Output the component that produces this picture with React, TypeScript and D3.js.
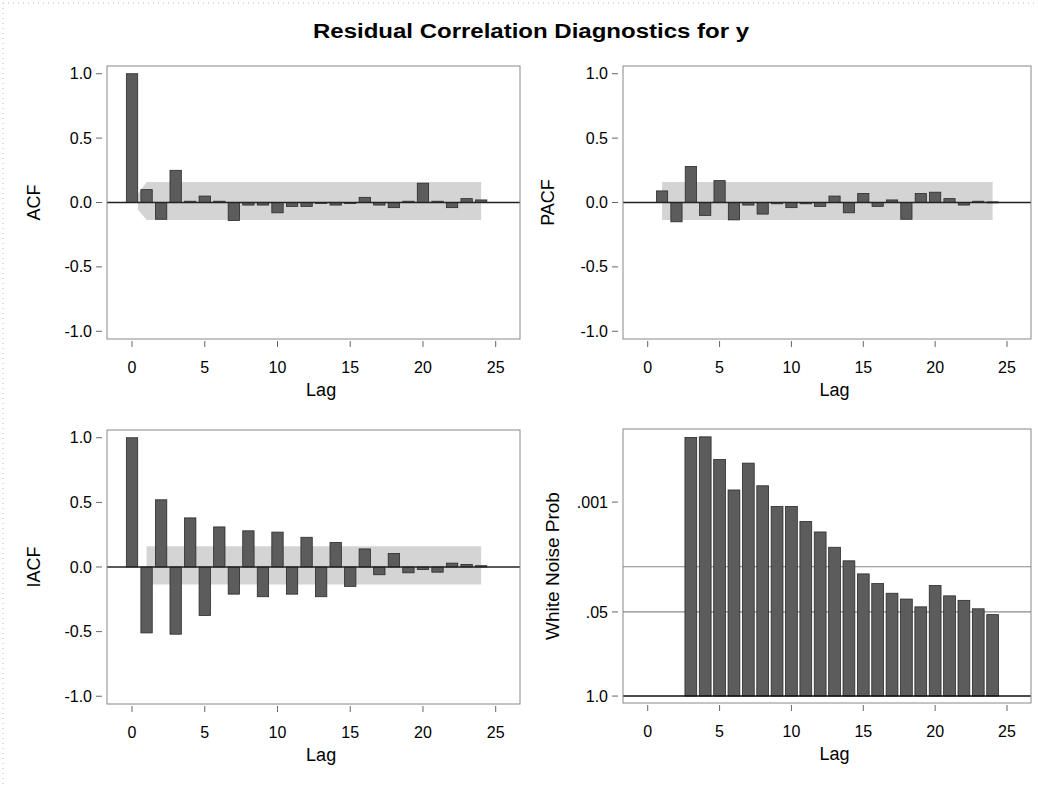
import * as d3 from 'd3';

// lags 0..24
const lags = d3.range(0, 25);

const acfValues = [
  1.0, 0.1, -0.13, 0.25, 0.01, 0.05, 0.01, -0.14, -0.02, -0.02, -0.08, -0.03,
  -0.03, 0.0, -0.02, 0.0, 0.04, -0.02, -0.04, 0.01, 0.15, 0.01, -0.04, 0.03, 0.02,
];

// PACF has no lag 0
const pacfValues = [
  null, 0.09, -0.15, 0.28, -0.1, 0.17, -0.135, -0.02, -0.09, -0.01, -0.04, -0.01,
  -0.03, 0.05, -0.08, 0.07, -0.03, 0.02, -0.13, 0.07, 0.08, 0.03, -0.02, 0.01, 0.005,
];

const iacfValues = [
  1.0, -0.51, 0.52, -0.52, 0.38, -0.375, 0.31, -0.21, 0.28, -0.23, 0.27, -0.21,
  0.23, -0.23, 0.19, -0.15, 0.14, -0.06, 0.105, -0.045, -0.02, -0.04, 0.03, 0.02, 0.01,
];

// white noise test probabilities, lags 3..24
const wnLags = d3.range(3, 25);
const wnProb = [
  0.0001, 0.000098, 0.00022, 0.00065, 0.00025, 0.00056, 0.00117, 0.00117, 0.002,
  0.0029, 0.005, 0.0081, 0.0129, 0.0182, 0.0257, 0.0316, 0.0417, 0.0195, 0.0282,
  0.0331, 0.0447, 0.055,
];

// two standard error band
const bandUpper = 0.16;
const bandLower = -0.135;

const yTicks = [-1, -0.5, 0, 0.5, 1];
const xTicks = [0, 5, 10, 15, 20, 25];
const wnTicks = [1, 0.05, 0.001];
const wnRefLines = [0.05, 0.01];

const font = "'Liberation Sans', Arial, sans-serif";

type Frame = { x0: number; x1: number; y0: number; y1: number };

function XAxis({ f, x }: { f: Frame; x: d3.ScaleLinear<number, number> }) {
  return (
    <g>
      {xTicks.map((t) => (
        <g key={t}>
          <line x1={x(t)} x2={x(t)} y1={f.y1 + 2} y2={f.y1 + 8} stroke="#666" />
          <text x={x(t)} y={f.y1 + 34} textAnchor="middle" fontSize={16}>
            {t}
          </text>
        </g>
      ))}
      <text x={x(13)} y={f.y1 + 57} textAnchor="middle" fontSize={18}>
        Lag
      </text>
    </g>
  );
}

function CorrPanel({
  f,
  values,
  label,
  labelX,
  bandStart,
}: {
  f: Frame;
  values: (number | null)[];
  label: string;
  labelX: number;
  bandStart: number;
}) {
  const x = d3.scaleLinear().domain([-1.72, 26.67]).range([f.x0, f.x1]);
  const y = d3.scaleLinear().domain([-1.06, 1.06]).range([f.y1, f.y0]);
  const bw = x(0.78) - x(0);
  const bandLags = d3.range(1, 25);
  const area = d3
    .area<number>()
    .x((d) => x(d))
    .y0((d) => y(d < 1 ? bandLower * d : bandLower))
    .y1((d) => y(d < 1 ? bandUpper * d : bandUpper));
  const bandPts = bandStart === 0 ? [0.4, ...bandLags] : bandLags;
  return (
    <g>
      <path d={area(bandPts) || ''} fill="#d4d4d4" />
      {lags.map((l) => {
        const v = values[l];
        if (v === null || v === undefined) return null;
        return (
          <rect
            key={l}
            x={x(l) - bw / 2}
            width={bw}
            y={y(Math.max(0, v))}
            height={Math.max(1, Math.abs(y(v) - y(0)))}
            fill="#5c5c5c"
            stroke="#2a2a2a"
            strokeWidth={0.8}
          />
        );
      })}
      <line x1={f.x0} x2={f.x1} y1={y(0)} y2={y(0)} stroke="#222" strokeWidth={1.4} />
      <rect x={f.x0} y={f.y0} width={f.x1 - f.x0} height={f.y1 - f.y0} fill="none" stroke="#888" />
      {yTicks.map((t) => (
        <g key={t}>
          <line x1={f.x0 - 11} x2={f.x0 - 5} y1={y(t)} y2={y(t)} stroke="#666" />
          <text x={f.x0 - 15} y={y(t)} dy="0.35em" textAnchor="end" fontSize={16}>
            {t.toFixed(1)}
          </text>
        </g>
      ))}
      <text
        transform={`translate(${labelX},${(f.y0 + f.y1) / 2}) rotate(-90)`}
        textAnchor="middle"
        fontSize={18}
      >
        {label}
      </text>
      <XAxis f={f} x={x} />
    </g>
  );
}

function WhiteNoisePanel({ f }: { f: Frame }) {
  const x = d3.scaleLinear().domain([-1.72, 26.67]).range([f.x0, f.x1]);
  const y = d3.scaleLog().domain([1.28, Math.pow(10, -4.13)]).range([f.y1, f.y0]);
  const bw = x(0.82) - x(0);
  return (
    <g>
      {wnRefLines.map((r) => (
        <line key={r} x1={f.x0} x2={f.x1} y1={y(r)} y2={y(r)} stroke="#888" strokeWidth={1.2} />
      ))}
      {wnLags.map((l, i) => (
        <rect
          key={l}
          x={x(l) - bw / 2}
          width={bw}
          y={y(wnProb[i])}
          height={y(1) - y(wnProb[i])}
          fill="#5c5c5c"
          stroke="#2a2a2a"
          strokeWidth={0.8}
        />
      ))}
      <line x1={f.x0} x2={f.x1} y1={y(1)} y2={y(1)} stroke="#111" strokeWidth={1.6} />
      <rect x={f.x0} y={f.y0} width={f.x1 - f.x0} height={f.y1 - f.y0} fill="none" stroke="#888" />
      {wnTicks.map((t) => (
        <g key={t}>
          <line x1={f.x0 - 11} x2={f.x0 - 5} y1={y(t)} y2={y(t)} stroke="#666" />
          <text x={f.x0 - 15} y={y(t)} dy="0.35em" textAnchor="end" fontSize={16}>
            {t === 1 ? '1.0' : String(t).replace(/^0/, '')}
          </text>
        </g>
      ))}
      <text
        transform={`translate(559,${(f.y0 + f.y1) / 2}) rotate(-90)`}
        textAnchor="middle"
        fontSize={19}
      >
        White Noise Prob
      </text>
      <XAxis f={f} x={x} />
    </g>
  );
}

export default function App() {
  const width = 1038;
  const height = 788;
  return (
    <svg
      width={width}
      height={height}
      style={{ position: 'absolute', left: 0, top: 0, background: '#fff' }}
      fontFamily={font}
    >
      <line x1={3} x2={width} y1={3} y2={3} stroke="#bbb" strokeDasharray="1,4" />
      <line x1={3} x2={3} y1={3} y2={height} stroke="#bbb" strokeDasharray="1,4" />
      <text x={531} y={38} textAnchor="middle" fontSize={20} fontWeight="bold" textLength={436} lengthAdjust="spacingAndGlyphs">
        Residual Correlation Diagnostics for y
      </text>
      <CorrPanel f={{ x0: 107, x1: 520, y0: 66, y1: 339 }} values={acfValues} label="ACF" labelX={40} bandStart={0} />
      <CorrPanel f={{ x0: 623, x1: 1031, y0: 66, y1: 339 }} values={pacfValues} label="PACF" labelX={554} bandStart={1} />
      <CorrPanel f={{ x0: 107, x1: 520, y0: 430, y1: 704 }} values={iacfValues} label="IACF" labelX={40} bandStart={1} />
      <WhiteNoisePanel f={{ x0: 623, x1: 1031, y0: 429, y1: 703 }} />
    </svg>
  );
}
